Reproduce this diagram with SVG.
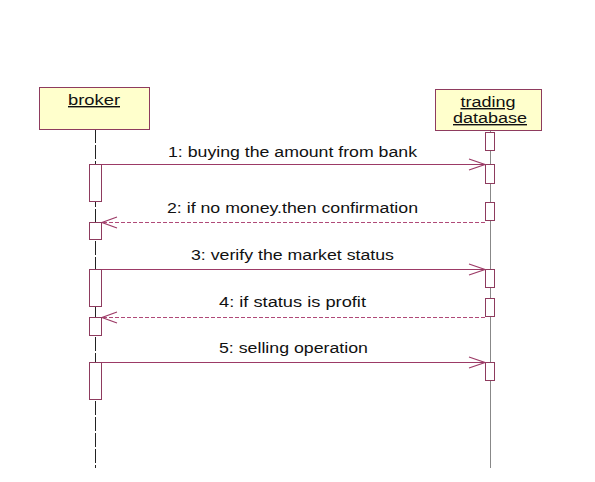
<svg xmlns="http://www.w3.org/2000/svg" width="595" height="482" viewBox="0 0 595 482">
<defs>
<style>
.obj{fill:#ffffcc;stroke:#8e3b5e;stroke-width:1}
.act{fill:#ffffff;stroke:#8e3b5e;stroke-width:1}
.lbl{font-family:"Liberation Sans",Arial,sans-serif;font-size:14px;fill:#111}
.name{font-family:"Liberation Sans",Arial,sans-serif;font-size:14px;fill:#111;text-decoration:underline}
.msg{stroke:#9c3a66;stroke-width:1;fill:none}
.ret{stroke:#b04a78;stroke-width:1;fill:none;stroke-dasharray:4,2}
.head{stroke:#9c3a66;stroke-width:1.2;fill:none}
</style>
</defs>
<rect width="595" height="482" fill="#ffffff"/>
<g id="lifelines">
<line x1="95.5" y1="129" x2="95.5" y2="468" stroke="#222" stroke-width="1" stroke-dasharray="14,2"/>
<line x1="490.5" y1="130" x2="490.5" y2="468" stroke="#888" stroke-width="1"/>
</g>
<g id="broker">
<rect class="obj" x="39.5" y="87.5" width="110" height="42"/>
<text class="name" x="94" y="105" text-anchor="middle" textLength="52" lengthAdjust="spacingAndGlyphs">broker</text>
</g>
<g id="trading_database">
<rect class="obj" x="435.5" y="89.5" width="106" height="41"/>
<text class="name" x="488" y="107" text-anchor="middle" textLength="55" lengthAdjust="spacingAndGlyphs">trading</text>
<text class="name" x="490" y="123" text-anchor="middle" textLength="74" lengthAdjust="spacingAndGlyphs">database</text>
</g>
<g id="activations">
<rect class="act" x="485.5" y="132.5" width="9" height="18"/>
<rect class="act" x="89.5" y="164.5" width="12" height="37"/>
<rect class="act" x="485.5" y="164.5" width="9" height="19"/>
<rect class="act" x="485.5" y="202.5" width="9" height="18"/>
<rect class="act" x="89.5" y="222.5" width="12" height="17"/>
<rect class="act" x="89.5" y="269.5" width="12" height="37"/>
<rect class="act" x="485.5" y="269.5" width="9" height="18"/>
<rect class="act" x="485.5" y="298.5" width="9" height="18"/>
<rect class="act" x="89.5" y="317.5" width="12" height="18"/>
<rect class="act" x="89.5" y="362.5" width="12" height="37"/>
<rect class="act" x="485.5" y="362.5" width="9" height="18"/>
</g>
<g id="connectors">
<line class="msg" x1="101.5" y1="164.5" x2="485" y2="164.5"/>
<polyline class="head" points="469,159 485,164.5 469,170"/>
<line class="ret" x1="485" y1="222.5" x2="102" y2="222.5"/>
<polyline class="head" points="117,217 102,222.5 117,228"/>
<line class="msg" x1="101.5" y1="269.5" x2="485" y2="269.5"/>
<polyline class="head" points="469,264 485,269.5 469,275"/>
<line class="ret" x1="485" y1="317.5" x2="102" y2="317.5"/>
<polyline class="head" points="117,312 102,317.5 117,323"/>
<line class="msg" x1="101.5" y1="362.5" x2="485" y2="362.5"/>
<polyline class="head" points="469,357 485,362.5 469,368"/>
</g>
<g id="labels">
<text class="lbl" x="168" y="157" textLength="249" lengthAdjust="spacingAndGlyphs">1: buying the amount from bank</text>
<text class="lbl" x="167" y="213" textLength="251" lengthAdjust="spacingAndGlyphs">2: if no money.then confirmation</text>
<text class="lbl" x="191" y="260" textLength="203" lengthAdjust="spacingAndGlyphs">3: verify the market status</text>
<text class="lbl" x="219" y="307" textLength="147" lengthAdjust="spacingAndGlyphs">4: if status is profit</text>
<text class="lbl" x="219" y="353" textLength="149" lengthAdjust="spacingAndGlyphs">5: selling operation</text>
</g>
</svg>
